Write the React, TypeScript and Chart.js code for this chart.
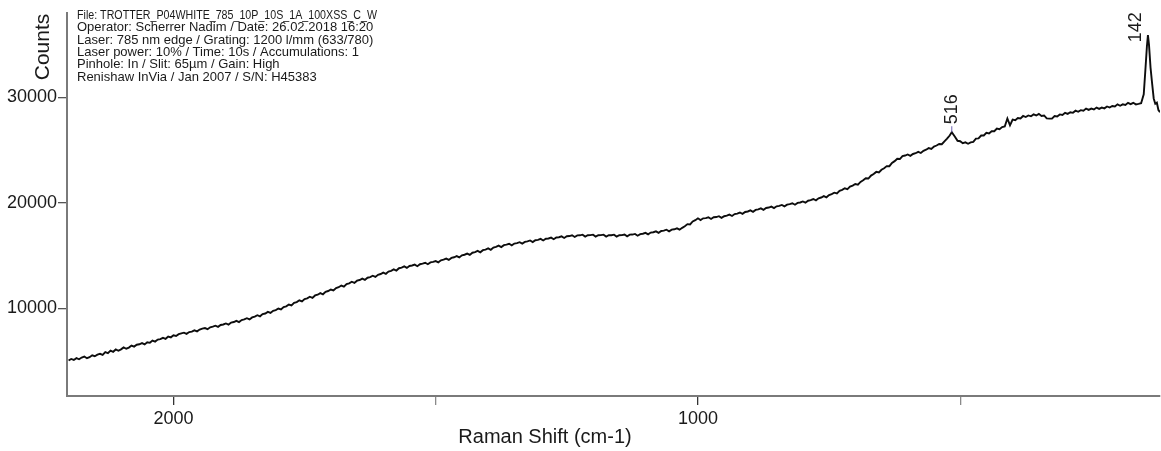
import React, { useEffect, useRef } from 'react';
import { Chart, registerables } from 'chart.js';

Chart.register(...registerables);

const ramanShift = [
  2200, 2195, 2190, 2185, 2180, 2175, 2170, 2165, 2160, 2155,
  2150, 2145, 2140, 2135, 2130, 2125, 2120, 2115, 2110, 2105,
  2100, 2095, 2090, 2085, 2080, 2075, 2070, 2065, 2060, 2055,
  2050, 2045, 2040, 2035, 2030, 2025, 2020, 2015, 2010, 2005,
  2000, 1995, 1990, 1985, 1980, 1975, 1970, 1965, 1960, 1955,
  1950, 1945, 1940, 1935, 1930, 1925, 1920, 1915, 1910, 1905,
  1900, 1895, 1890, 1885, 1880, 1875, 1870, 1865, 1860, 1855,
  1850, 1845, 1840, 1835, 1830, 1825, 1820, 1815, 1810, 1805,
  1800, 1795, 1790, 1785, 1780, 1775, 1770, 1765, 1760, 1755,
  1750, 1745, 1740, 1735, 1730, 1725, 1720, 1715, 1710, 1705,
  1700, 1695, 1690, 1685, 1680, 1675, 1670, 1665, 1660, 1655,
  1650, 1645, 1640, 1635, 1630, 1625, 1620, 1615, 1610, 1605,
  1600, 1595, 1590, 1585, 1580, 1575, 1570, 1565, 1560, 1555,
  1550, 1545, 1540, 1535, 1530, 1525, 1520, 1515, 1510, 1505,
  1500, 1495, 1490, 1485, 1480, 1475, 1470, 1465, 1460, 1455,
  1450, 1445, 1440, 1435, 1430, 1425, 1420, 1415, 1410, 1405,
  1400, 1395, 1390, 1385, 1380, 1375, 1370, 1365, 1360, 1355,
  1350, 1345, 1340, 1335, 1330, 1325, 1320, 1315, 1310, 1305,
  1300, 1295, 1290, 1285, 1280, 1275, 1270, 1265, 1260, 1255,
  1250, 1245, 1240, 1235, 1230, 1225, 1220, 1215, 1210, 1205,
  1200, 1195, 1190, 1185, 1180, 1175, 1170, 1165, 1160, 1155,
  1150, 1145, 1140, 1135, 1130, 1125, 1120, 1115, 1110, 1105,
  1100, 1095, 1090, 1085, 1080, 1075, 1070, 1065, 1060, 1055,
  1050, 1045, 1040, 1035, 1030, 1025, 1020, 1015, 1010, 1005,
  1000, 995, 990, 985, 980, 975, 970, 965, 960, 955,
  950, 945, 940, 935, 930, 925, 920, 915, 910, 905,
  900, 895, 890, 885, 880, 875, 870, 865, 860, 855,
  850, 845, 840, 835, 830, 825, 820, 815, 810, 805,
  800, 795, 790, 785, 780, 775, 770, 765, 760, 755,
  750, 745, 740, 735, 730, 725, 720, 715, 710, 705,
  700, 695, 690, 685, 680, 675, 670, 665, 660, 655,
  650, 645, 640, 635, 630, 625, 620, 615, 610, 605,
  600, 595, 590, 585, 580, 575, 570, 565, 560, 555,
  550, 545, 540, 535, 530, 525, 520, 516, 510, 505,
  500, 495, 490, 485, 480, 475, 470, 465, 460, 455,
  450, 445, 440, 435, 430, 425, 420, 415, 410, 405,
  400, 395, 390, 385, 380, 375, 370, 365, 360, 355,
  350, 345, 340, 335, 330, 325, 320, 315, 310, 305,
  300, 295, 290, 285, 280, 275, 270, 265, 260, 255,
  250, 245, 240, 235, 230, 225, 220, 215, 210, 205,
  200, 195, 190, 185, 180, 175, 170, 165, 160, 155,
  150, 147, 144, 142, 140, 137, 134, 131, 128, 125,
  122, 119,
];

const counts = [
  5060, 5210, 5120, 5290, 5180, 5350, 5440, 5280, 5380, 5560,
  5470, 5620, 5700, 5590, 5850, 5760, 6010, 5890, 6110, 5990,
  6120, 6300, 6180, 6290, 6480, 6380, 6560, 6600, 6710, 6590,
  6790, 6740, 6960, 6860, 7050, 7090, 7210, 7120, 7330, 7260,
  7460, 7390, 7560, 7640, 7700, 7590, 7760, 7800, 7920, 7830,
  8000, 8090, 8140, 8030, 8210, 8270, 8360, 8250, 8430, 8480,
  8580, 8470, 8660, 8710, 8830, 8710, 8900, 8960, 9070, 8960,
  9150, 9230, 9360, 9250, 9460, 9520, 9670, 9570, 9780, 9840,
  9990, 9900, 10130, 10200, 10370, 10280, 10520, 10600, 10770, 10660,
  10890, 10960, 11110, 11000, 11230, 11300, 11450, 11340, 11570, 11650,
  11790, 11700, 11930, 12010, 12170, 12060, 12310, 12380, 12530, 12420,
  12630, 12690, 12820, 12700, 12910, 12970, 13100, 12990, 13190, 13260,
  13390, 13280, 13490, 13560, 13700, 13590, 13810, 13860, 13980, 13840,
  14020, 14070, 14150, 14000, 14190, 14240, 14330, 14190, 14360, 14410,
  14490, 14370, 14560, 14620, 14720, 14600, 14790, 14850, 14960, 14830,
  15030, 15090, 15200, 15070, 15280, 15340, 15450, 15320, 15520, 15580,
  15690, 15560, 15770, 15830, 15950, 15810, 16000, 16040, 16130, 15980,
  16150, 16190, 16280, 16140, 16310, 16350, 16440, 16290, 16460, 16500,
  16590, 16440, 16600, 16630, 16710, 16560, 16720, 16750, 16830, 16680,
  16840, 16860, 16930, 16770, 16920, 16930, 16990, 16810, 16940, 16950,
  16990, 16810, 16940, 16950, 16990, 16810, 16940, 16940, 16990, 16810,
  16940, 16950, 17010, 16840, 16990, 17000, 17060, 16890, 17040, 17080,
  17160, 17020, 17190, 17220, 17310, 17170, 17340, 17370, 17460, 17310,
  17470, 17500, 17590, 17460, 17640, 17790, 17990, 17960, 18240, 18360,
  18540, 18380, 18540, 18560, 18640, 18480, 18640, 18660, 18740, 18580,
  18740, 18790, 18890, 18760, 18940, 18990, 19090, 18960, 19140, 19190,
  19290, 19160, 19340, 19390, 19490, 19350, 19520, 19560, 19650, 19510,
  19680, 19720, 19810, 19670, 19840, 19880, 19970, 19830, 20000, 20040,
  20140, 20020, 20210, 20260, 20370, 20250, 20440, 20510, 20640, 20530,
  20740, 20830, 20970, 20900, 21140, 21240, 21390, 21310, 21540, 21640,
  21790, 21730, 21990, 22140, 22340, 22310, 22590, 22740, 22940, 22880,
  23140, 23290, 23490, 23480, 23790, 23960, 24190, 24160, 24440, 24490,
  24590, 24460, 24640, 24710, 24840, 24730, 24940, 25040, 25190, 25110,
  25340, 25440, 25590, 25560, 25840, 26090, 26390, 26700, 26280, 25890,
  25850, 25660, 25740, 25610, 25740, 25790, 26090, 26110, 26390, 26390,
  26640, 26590, 26790, 26790, 27040, 26990, 27190, 27240, 28000, 27350,
  27890, 27840, 28040, 28010, 28240, 28140, 28290, 28210, 28390, 28290,
  28440, 28240, 28290, 28010, 27990, 27990, 28240, 28190, 28390, 28340,
  28540, 28440, 28590, 28540, 28740, 28640, 28790, 28740, 28940, 28810,
  28940, 28860, 29040, 28910, 29040, 28960, 29140, 29040, 29190, 29140,
  29340, 29210, 29340, 29290, 29490, 29360, 29490, 29340, 29390, 29450,
  30300, 32500, 34800, 35900, 35000, 32800, 31300, 29900, 29400, 29500,
  28800, 28600,
];

const peakShifts = [516, 142];
const peakLabels = ['516', '142'];

const xTickValues = [2000, 1500, 1000, 500];
const xTickLabels = ['2000', '', '1000', ''];
const yTickValues = [10000, 20000, 30000];
const yTickLabels = ['10000', '20000', '30000'];

const xTitle = 'Raman Shift (cm-1)';
const yTitle = 'Counts';

const infoLines = [
  'File: TROTTER_P04WHITE_785_10P_10S_1A_100XSS_C_W',
  'Operator: Scherrer Nadim / Date: 26.02.2018 16:20',
  'Laser: 785 nm edge / Grating: 1200 l/mm (633/780)',
  'Laser power: 10% / Time: 10s / Accumulations: 1',
  'Pinhole: In / Slit: 65µm / Gain: High',
  'Renishaw InVia / Jan 2007 / S/N: H45383',
];

const FONT = '"Liberation Sans", Arial, sans-serif';

const annotationPlugin = {
  id: 'ramanAnnotations',
  afterDraw(chart: any) {
    const ctx = chart.ctx;
    const xs = chart.scales.x;
    const ys = chart.scales.y;
    ctx.save();
    ctx.fillStyle = '#1a1a1a';

    // info block
    ctx.font = `13px ${FONT}`;
    ctx.textAlign = 'left';
    ctx.textBaseline = 'top';
    infoLines.forEach((line, i) => {
      ctx.fillText(line, 77, 9 + i * 12.3, 300);
    });

    // y title
    ctx.save();
    ctx.translate(43, 47);
    ctx.rotate(-Math.PI / 2);
    ctx.font = `21px ${FONT}`;
    ctx.textAlign = 'center';
    ctx.textBaseline = 'middle';
    ctx.fillText(yTitle, 0, 0);
    ctx.restore();

    // x title
    ctx.font = `20px ${FONT}`;
    ctx.textAlign = 'center';
    ctx.textBaseline = 'middle';
    ctx.fillText(xTitle, 545, 437);

    // peak labels
    ctx.font = `18px ${FONT}`;
    peakShifts.forEach((w, i) => {
      const idx = ramanShift.indexOf(w);
      const px = xs.getPixelForValue(w);
      const py = ys.getPixelForValue(counts[idx]);
      const dx = i === 0 ? 0 : -12;
      const dy = i === 0 ? -8 : 7;
      if (i === 0) {
        ctx.save();
        ctx.strokeStyle = '#6a5fb0';
        ctx.lineWidth = 1;
        ctx.beginPath();
        ctx.moveTo(px, py);
        ctx.lineTo(px, py - 6);
        ctx.stroke();
        ctx.restore();
      }
      ctx.save();
      ctx.translate(px + dx, py + dy);
      ctx.rotate(-Math.PI / 2);
      ctx.textAlign = 'left';
      ctx.textBaseline = 'middle';
      ctx.fillText(peakLabels[i], 0, 0);
      ctx.restore();
    });

    ctx.restore();
  },
};

export default function App() {
  const canvasRef = useRef<HTMLCanvasElement | null>(null);

  useEffect(() => {
    if (!canvasRef.current) return;
    const n = Math.min(ramanShift.length, counts.length);
    const points = [];
    for (let i = 0; i < n; i++) points.push({ x: ramanShift[i], y: counts[i] });
    const chart = new Chart(canvasRef.current, {
      type: 'line',
      data: {
        datasets: [
          {
            data: points,
            borderColor: '#0d0d0d',
            borderWidth: 1.9,
            pointRadius: 0,
            tension: 0,
            fill: false,
          },
        ],
      },
      options: {
        animation: false,
        responsive: false,
        maintainAspectRatio: false,
        layout: { padding: { top: 13, right: 1, left: 0, bottom: 0 } },
        plugins: { legend: { display: false }, tooltip: { enabled: false } },
        scales: {
          x: {
            type: 'linear',
            reverse: true,
            min: 119,
            max: 2203,
            afterBuildTicks: (scale: any) => {
              scale.ticks = xTickValues.map((v) => ({ value: v }));
            },
            afterFit: (scale: any) => {
              scale.height = 55;
            },
            ticks: {
              autoSkip: false,
              maxRotation: 0,
              padding: 3,
              color: '#1a1a1a',
              font: { family: FONT, size: 18 },
              callback: (v: any) => {
                const i = xTickValues.indexOf(Number(v));
                return i >= 0 ? xTickLabels[i] : '';
              },
            },
            grid: {
              drawOnChartArea: false,
              drawTicks: true,
              tickLength: 9,
              lineWidth: 1.3,
              color: (c: any) => {
                const i = c.tick ? xTickValues.indexOf(c.tick.value) : -1;
                return i >= 0 && xTickLabels[i] ? '#333333' : '#8a8a8a';
              },
            },
            border: { display: true, color: '#7a7a7a', width: 2 },
          },
          y: {
            type: 'linear',
            min: 1700,
            max: 38000,
            afterBuildTicks: (scale: any) => {
              scale.ticks = yTickValues.map((v) => ({ value: v }));
            },
            afterFit: (scale: any) => {
              scale.width = 67;
            },
            ticks: {
              autoSkip: false,
              padding: 1,
              color: '#1a1a1a',
              font: { family: FONT, size: 18 },
              callback: (v: any) => {
                const i = yTickValues.indexOf(Number(v));
                return i >= 0 ? yTickLabels[i] : '';
              },
            },
            grid: {
              drawOnChartArea: false,
              drawTicks: true,
              tickLength: 9,
              lineWidth: 1.3,
              color: '#555555',
            },
            border: { display: true, color: '#7a7a7a', width: 2 },
          },
        },
      },
      plugins: [annotationPlugin],
    });
    return () => chart.destroy();
  }, []);

  return (
    <div style={{ position: 'fixed', left: 0, top: 0, width: 1161, height: 451, background: '#ffffff' }}>
      <canvas ref={canvasRef} width={1161} height={451} style={{ width: 1161, height: 451 }} />
    </div>
  );
}
